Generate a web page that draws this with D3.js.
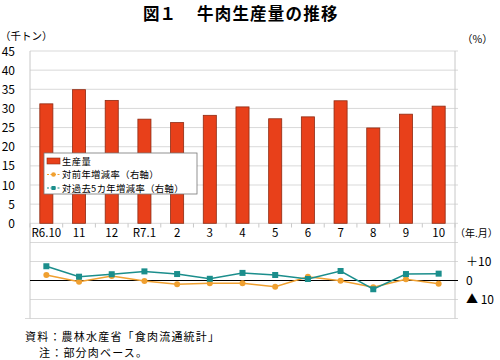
<!DOCTYPE html>
<html><head><meta charset="utf-8">
<script src="https://cdn.jsdelivr.net/npm/d3@7"></script>
<style>body{margin:0;background:#fff}svg{display:block}text{font-family:"Noto Sans CJK JP","Liberation Sans",sans-serif}</style>
</head><body><svg id="c" width="500" height="360"></svg>
<script>
const categories = ["R6.10","11","12","R7.1","2","3","4","5","6","7","8","9","10"];
const production = [31.2,34.9,32.1,27.2,26.3,28.2,30.4,27.3,27.8,32.0,24.9,28.5,30.6];
const yoyRate = [2.9,-0.6,2.4,-0.3,-2.0,-1.5,-1.5,-3.3,2.0,-0.1,-3.6,0.6,-1.7];
const fiveYearRate = [7.5,2.0,3.3,4.8,3.4,0.9,4.0,2.9,0.8,5.0,-4.6,3.4,3.6];
const leftTicks = [0,5,10,15,20,25,30,35,40,45];
const rightTicks = [10,0,-10];
const rightTickLabels = ["＋10","0","▲ 10"];

const svg = d3.select("#c");
const L = 30, R = 455;
const x = d3.scaleBand().domain(categories).range([L, R]).paddingInner(0.6).paddingOuter(0.3);
const y = d3.scaleLinear().domain([0,45]).range([223.3, 51]);
const y2 = d3.scaleLinear().domain([-20,20]).range([318.5, 242.5]);
const cx = d => x(d) + x.bandwidth()/2;

// title
svg.append("text").attr("x",143).attr("y",20).attr("font-size",16.5).attr("font-weight","bold").text("図１");
svg.append("text").attr("x",197).attr("y",20).attr("font-size",16.5).attr("font-weight","bold")
  .attr("letter-spacing",1.2).text("牛肉生産量の推移");
svg.append("text").attr("x",0).attr("y",40).attr("font-size",10.5).text("（千トン）");
svg.append("text").attr("x",462).attr("y",43).attr("font-size",10.5).text("（%）");

// upper gridlines
svg.append("g").selectAll("line").data(leftTicks).join("line")
  .attr("x1",L).attr("x2",R+3).attr("y1",d=>y(d)).attr("y2",d=>y(d))
  .attr("stroke","#d9d9d9").attr("stroke-width",1);
svg.append("g").selectAll("text").data(leftTicks).join("text")
  .attr("x",15).attr("y",d=>y(d)+4.5).attr("text-anchor","end").attr("font-size",12)
  .attr("font-family","Liberation Sans, Arial, sans-serif").text(d=>d);

// lower gridlines
svg.append("g").selectAll("line").data([20,10,-10,-20]).join("line")
  .attr("x1",d=>d===-20?25:L).attr("x2",R+3).attr("y1",d=>y2(d)).attr("y2",d=>y2(d))
  .attr("stroke","#d9d9d9").attr("stroke-width",1);

// axis lines
svg.append("line").attr("x1",L).attr("x2",L).attr("y1",51).attr("y2",318.5).attr("stroke","#c8c8c8");
svg.append("line").attr("x1",R).attr("x2",R).attr("y1",51).attr("y2",318.5).attr("stroke","#c8c8c8");
const step = x.step();
svg.append("g").selectAll("line").data(d3.range(categories.length+1)).join("line")
  .attr("x1",i=>L+i*step).attr("x2",i=>L+i*step).attr("y1",223.3).attr("y2",227.5)
  .attr("stroke","#c8c8c8");

// bars
svg.append("g").selectAll("rect").data(production).join("rect")
  .attr("x",(d,i)=>x(categories[i])).attr("width",x.bandwidth())
  .attr("y",d=>y(d)).attr("height",d=>y(0)-y(d))
  .attr("fill","#E8401A").attr("stroke","#8E2A12").attr("stroke-width",0.8);

// x labels
svg.append("g").selectAll("text").data(categories).join("text")
  .attr("x",d=>cx(d)).attr("y",237).attr("text-anchor","middle").attr("font-size",11.5)
  .attr("font-family","Liberation Sans, Arial, sans-serif").text(d=>d);
svg.append("text").attr("x",455).attr("y",237).attr("font-size",10).text("（年.月）");

// zero line lower
svg.append("line").attr("x1",L).attr("x2",R+3).attr("y1",y2(0)).attr("y2",y2(0)).attr("stroke","#000").attr("stroke-width",1.2);

// right labels
svg.append("g").selectAll("text").data(rightTicks).join("text")
  .attr("x",466).attr("y",d=>y2(d)+4.5).attr("font-size",12)
  .text((d,i)=>rightTickLabels[i]);

// lines
const lineGen = d3.line().x((d,i)=>cx(categories[i])).y(d=>y2(d));
svg.append("path").datum(yoyRate).attr("d",lineGen).attr("fill","none").attr("stroke","#F0A030").attr("stroke-width",1.5);
svg.append("g").selectAll("circle").data(yoyRate).join("circle")
  .attr("cx",(d,i)=>cx(categories[i])).attr("cy",d=>y2(d)).attr("r",3).attr("fill","#F0A030");
svg.append("path").datum(fiveYearRate).attr("d",lineGen).attr("fill","none").attr("stroke","#1B8E8C").attr("stroke-width",1.5);
svg.append("g").selectAll("rect").data(fiveYearRate).join("rect")
  .attr("x",(d,i)=>cx(categories[i])-3).attr("y",d=>y2(d)-3).attr("width",6).attr("height",6).attr("fill","#1B8E8C");

// legend
const lg = svg.append("g");
lg.append("rect").attr("x",44).attr("y",153).attr("width",153).attr("height",41).attr("fill","#fff").attr("stroke","#777").attr("stroke-width",0.8);
lg.append("rect").attr("x",47).attr("y",158).attr("width",13).attr("height",6).attr("fill","#E8401A").attr("stroke","#8E2A12").attr("stroke-width",0.6);
lg.append("text").attr("x",62).attr("y",164.5).attr("font-size",9.3).attr("letter-spacing",0.4).text("生産量");
lg.append("line").attr("x1",47).attr("x2",60).attr("y1",174.5).attr("y2",174.5).attr("stroke","#F0A030").attr("stroke-width",1.2).attr("stroke-dasharray","2,1.5");
lg.append("circle").attr("cx",53.5).attr("cy",174.5).attr("r",2.3).attr("fill","#F0A030");
lg.append("text").attr("x",62).attr("y",178).attr("font-size",9.3).attr("letter-spacing",0.4).text("対前年増減率（右軸）");
lg.append("line").attr("x1",47).attr("x2",60).attr("y1",188).attr("y2",188).attr("stroke","#1B8E8C").attr("stroke-width",1.2).attr("stroke-dasharray","2,1.5");
lg.append("rect").attr("x",51.5).attr("y",186).attr("width",4).attr("height",4).attr("fill","#1B8E8C");
lg.append("text").attr("x",62).attr("y",191.5).attr("font-size",9.3).attr("letter-spacing",0.4).text("対過去5カ年増減率（右軸）");

// notes
svg.append("text").attr("x",25).attr("y",340.5).attr("font-size",11).attr("letter-spacing",1.2).text("資料：農林水産省「食肉流通統計」");
svg.append("text").attr("x",39).attr("y",356.5).attr("font-size",11).attr("letter-spacing",1.2).text("注：部分肉ベース。");
</script></body></html>
